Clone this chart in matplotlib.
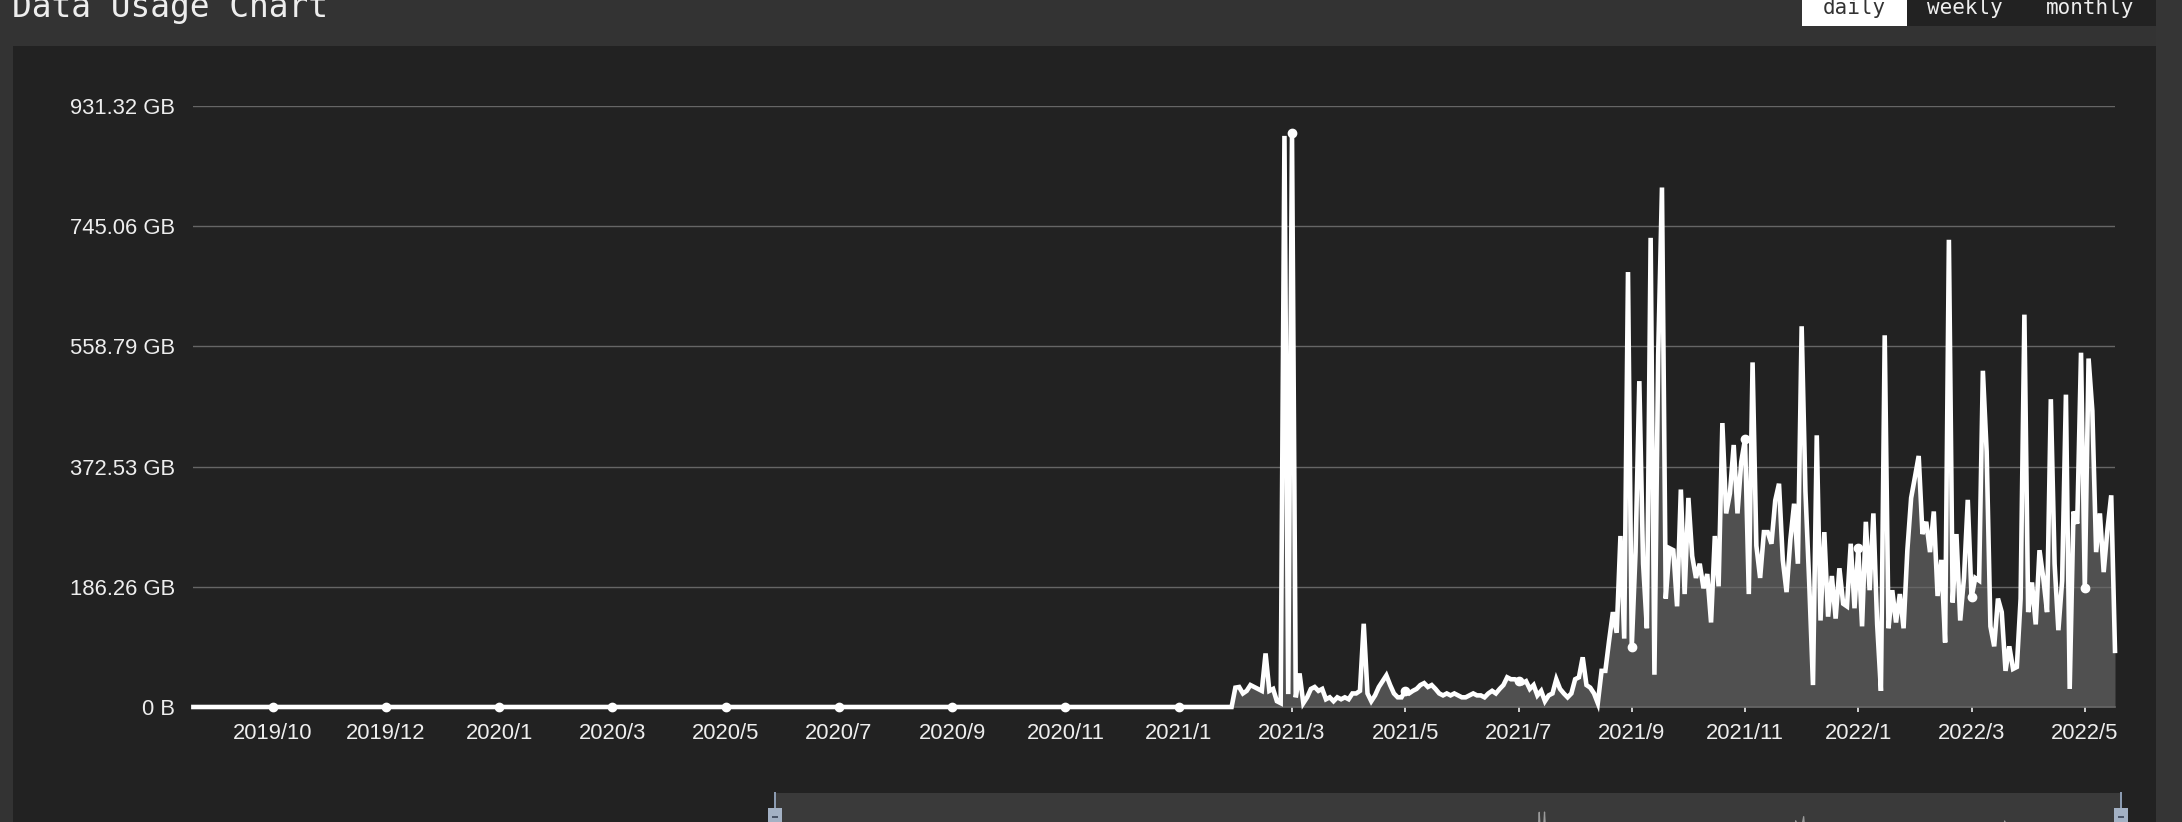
import pandas as pd
import matplotlib
matplotlib.use("Agg")
import matplotlib.pyplot as plt
from matplotlib.patches import Rectangle

# data usage in GB, one value every 2 days starting 2019-08-21
start_date = "2019-08-21"
zero_days = [0] * 276  # nothing used until late Feb 2021
active_gb = [
	30, 31, 21, 25, 34, 31, 28, 25, 83, 25,
	28, 9, 6, 885, 20, 890, 15, 52, 6, 15,
	28, 31, 25, 28, 12, 15, 9, 15, 12, 15,
	12, 21, 21, 25, 129, 21, 9, 18, 31, 40,
	49, 34, 21, 15, 15, 25, 21, 25, 28, 34,
	37, 31, 34, 28, 21, 18, 21, 18, 21, 18,
	15, 15, 18, 21, 18, 18, 15, 21, 25, 21,
	28, 34, 46, 43, 43, 40, 37, 40, 28, 34,
	18, 25, 9, 18, 21, 43, 28, 21, 15, 21,
	43, 46, 77, 34, 30, 21, 6, 56, 56, 103,
	147, 115, 265, 106, 674, 93, 240, 505, 222, 122,
	727, 50, 546, 805, 168, 246, 243, 156, 337, 175,
	324, 234, 200, 222, 184, 206, 131, 265, 187, 440,
	300, 331, 406, 300, 380, 415, 175, 534, 250, 200,
	271, 271, 253, 320, 346, 228, 178, 259, 315, 222,
	590, 334, 193, 34, 421, 134, 271, 140, 203, 137,
	215, 160, 156, 253, 153, 246, 125, 287, 181, 300,
	128, 25, 576, 122, 181, 131, 175, 122, 243, 324,
	356, 389, 268, 287, 240, 303, 172, 228, 100, 724,
	162, 268, 134, 200, 321, 170, 200, 196, 521, 396,
	125, 94, 168, 147, 56, 94, 59, 62, 168, 608,
	147, 193, 128, 243, 200, 147, 477, 222, 119, 196,
	484, 28, 303, 284, 549, 184, 540, 459, 240, 300,
	209, 275, 328, 87,
]
usage_gb = zero_days + active_gb

tick_dates = pd.date_range("2019-10-02", periods=17, freq="60D")
tick_labels = ["2019/10", "2019/12", "2020/1", "2020/3", "2020/5", "2020/7",
			   "2020/9", "2020/11", "2021/1", "2021/3", "2021/5", "2021/7",
			   "2021/9", "2021/11", "2022/1", "2022/3", "2022/5"]
y_ticks = [0, 186.26, 372.53, 558.79, 745.06, 931.32]
y_labels = ["0 B", "186.26 GB", "372.53 GB", "558.79 GB", "745.06 GB", "931.32 GB"]
buttons = ["daily", "weekly", "monthly"]

dates = pd.date_range(start_date, periods=len(usage_gb), freq="2D")
usage = pd.Series(usage_gb, index=dates)

W, H = 2182, 822

def box(x0, y0, x1, y1): #pixel box (top-left origin) -> figure fraction
	return [x0 / W, 1 - y1 / H, (x1 - x0) / W, (y1 - y0) / H]

def add_rect(fig, x0, y0, x1, y1, color, z=0):
	l, b, w, h = box(x0, y0, x1, y1)
	fig.add_artist(Rectangle((l, b), w, h, transform=fig.transFigure,
							 facecolor=color, edgecolor='none', zorder=z))

fig = plt.figure(figsize=(W / 100, H / 100), dpi=100, facecolor='#333333')

# page background pieces
add_rect(fig, 12.5, 46, 2156, 830, '#222222')
add_rect(fig, 2156, 0, 2182, 830, '#353535')
add_rect(fig, 1907, -5, 2156, 26, '#222222')
add_rect(fig, 1802, -5, 1907, 26, '#ffffff')

# title sits partly above the top edge, as in the page screenshot
fig.text(12 / W, 1 - 17 / H, "Data Usage Chart", family='DejaVu Sans Mono',
		 fontsize=23.7, color='#eeeeee', va='baseline', ha='left')
btn_x = [1854.5, 1965, 2090]
btn_color = ['#333333', '#eeeeee', '#eeeeee']
for label, x, c in zip(buttons, btn_x, btn_color):
	fig.text(x / W, 1 - 13.5 / H, label, family='DejaVu Sans Mono', fontsize=15,
			 color=c, va='baseline', ha='center')

# main chart
ax = fig.add_axes(box(193.4, 106, 2115, 707))
ax.set_facecolor('none')
ax.fill_between(dates, usage.values, 0, color='#505050', lw=0, zorder=1)
for y in y_ticks[1:]:
	ax.axhline(y, color='#666666', lw=1.0, zorder=1.5)
ax.plot(dates, usage.values, color='white', lw=3.3, zorder=3, clip_on=False,
		solid_joinstyle='miter')
ax.plot(tick_dates, usage.loc[tick_dates].values, 'o', color='white', ms=6,
		zorder=4, clip_on=False)

ax.set_xlim(dates[0], dates[-1])
ax.set_ylim(0, 931.32)
for s in ['top', 'left', 'right']:
	ax.spines[s].set_visible(False)
ax.spines['bottom'].set_color('#666666')
ax.spines['bottom'].set_linewidth(1.2)

ax.set_xticks(tick_dates)
ax.set_xticklabels(tick_labels)
ax.set_yticks(y_ticks)
ax.set_yticklabels(y_labels)
ax.tick_params(axis='x', colors='white', length=3.6, width=1.1, pad=8,
			   labelsize=15.8, labelcolor='#eeeeee')
ax.tick_params(axis='y', length=0, pad=13, labelsize=15.8, labelcolor='#eeeeee')
for t in ax.get_xticklabels() + ax.get_yticklabels():
	t.set_family('Liberation Sans')

# data zoom slider (cut off by the bottom edge)
sl = fig.add_axes(box(775, 793, 2121, 860))
sl.set_facecolor('#3a3a3a')
sl.plot(dates, usage.values, color='#9a9a9a', lw=0.9)
sl.set_xlim(dates[0], dates[-1])
sl.set_ylim(0, 1243)
sl.set_xticks([])
sl.set_yticks([])
for s in sl.spines.values():
	s.set_visible(False)

for hx in [775, 2121]:
	add_rect(fig, hx - 1, 792, hx + 1, 809, '#8b9bb1', z=5)
	add_rect(fig, hx - 7, 808, hx + 7, 830, '#a3b1c4', z=5)
	add_rect(fig, hx - 3, 816, hx + 3, 818, '#4a5568', z=6)

fig.savefig("out.png", dpi=100, facecolor=fig.get_facecolor())
